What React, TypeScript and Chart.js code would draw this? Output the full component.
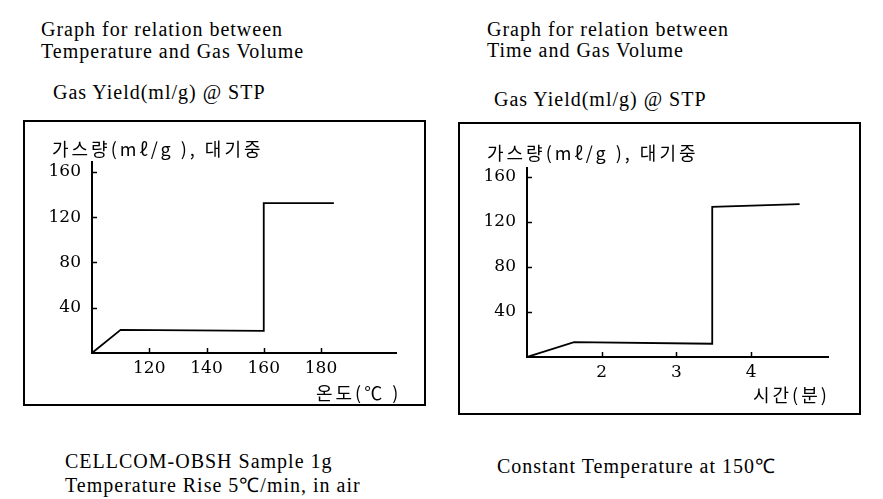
import React, { useEffect, useRef } from "react";
import { Chart, registerables } from "chart.js";

Chart.register(...registerables);

// ---- data ----
const tempX = [100, 110, 160, 160, 184.5];
const tempY = [0, 20.4, 19.5, 132.4, 132.4];
const tempXTicks = [120, 140, 160, 180];

const timeX = [1, 1.63, 3.48, 3.48, 4.65];
const timeY = [0, 13.3, 11.8, 133.5, 135.8];
const timeXTicks = [2, 3, 4];

const yTicks = [40, 80, 120, 160];

const yTitle = "가스량(mℓ/g ), 대기중";
const tempXTitle = "온도(℃ )";
const timeXTitle = "시간(분)";

const inwardTicks = {
  id: "inwardTicks",
  afterDatasetsDraw(chart: any) {
    const { ctx, chartArea, scales } = chart;
    ctx.save();
    ctx.strokeStyle = "#000";
    ctx.lineWidth = 1.5;
    scales.x.ticks.forEach((t: any) => {
      const px = Math.round(scales.x.getPixelForValue(t.value)) + 0.5;
      ctx.beginPath();
      ctx.moveTo(px, chartArea.bottom);
      ctx.lineTo(px, chartArea.bottom - 5);
      ctx.stroke();
    });
    scales.y.ticks.forEach((t: any) => {
      const py = Math.round(scales.y.getPixelForValue(t.value)) + 0.5;
      ctx.beginPath();
      ctx.moveTo(chartArea.left, py);
      ctx.lineTo(chartArea.left + 5, py);
      ctx.stroke();
    });
    ctx.restore();
  },
};

type Props = {
  xs: number[];
  ys: number[];
  xTicks: number[];
  xMin: number;
  xMax: number;
  yMax: number;
  left: number;
  top: number;
  width: number;
  height: number;
  yAxisWidth: number;
  padRight: number;
  padTop: number;
  xAxisHeight: number;
};

function StepChart(p: Props) {
  const ref = useRef<HTMLCanvasElement>(null);
  useEffect(() => {
    if (!ref.current) return;
    const data = p.xs.map((x, i) => ({ x, y: p.ys[i] }));
    const chart = new Chart(ref.current, {
      type: "line",
      data: {
        datasets: [
          {
            data,
            borderColor: "#000",
            borderWidth: 1.8,
            pointRadius: 0,
            tension: 0,
            fill: false,
          },
        ],
      },
      options: {
        animation: false,
        responsive: false,
        layout: { padding: { left: 0, right: p.padRight, top: p.padTop, bottom: 0 } },
        plugins: { legend: { display: false }, tooltip: { enabled: false }, title: { display: false } },
        scales: {
          x: {
            type: "linear",
            min: p.xMin,
            max: p.xMax,
            grid: { display: false, drawTicks: false },
            border: { display: true, color: "#000", width: 2 },
            afterBuildTicks: (s: any) => {
              s.ticks = p.xTicks.map((v) => ({ value: v }));
            },
            afterFit: (s: any) => {
              s.height = p.xAxisHeight;
            },
            ticks: {
              color: "#000",
              padding: 5,
              maxRotation: 0,
              font: { family: "'DejaVu Serif'", size: 17 },
            },
          },
          y: {
            type: "linear",
            min: 0,
            max: p.yMax,
            grid: { display: false, drawTicks: false },
            border: { display: true, color: "#000", width: 2 },
            afterBuildTicks: (s: any) => {
              s.ticks = yTicks.map((v) => ({ value: v }));
            },
            afterFit: (s: any) => {
              s.width = p.yAxisWidth;
            },
            ticks: {
              color: "#000",
              padding: 11,
              font: { family: "'DejaVu Serif'", size: 17 },
            },
          },
        },
      },
      plugins: [inwardTicks],
    });
    return () => chart.destroy();
  }, []);
  return (
    <canvas
      ref={ref}
      width={p.width}
      height={p.height}
      style={{ position: "absolute", left: p.left, top: p.top, width: p.width, height: p.height }}
    />
  );
}

const serif: React.CSSProperties = {
  position: "absolute",
  fontFamily: "'Liberation Serif', 'Times New Roman', serif",
  fontSize: 20,
  lineHeight: "20px",
  letterSpacing: "1px",
  color: "#000",
  whiteSpace: "nowrap",
};

const kor: React.CSSProperties = {
  position: "absolute",
  fontFamily: "'Noto Sans CJK KR', sans-serif",
  fontSize: 18,
  lineHeight: "18px",
  letterSpacing: "3px",
  color: "#000",
  whiteSpace: "nowrap",
};

const box: React.CSSProperties = {
  position: "absolute",
  border: "2px solid #000",
  boxSizing: "border-box",
};

export default function App() {
  return (
    <div
      style={{
        position: "fixed",
        left: 0,
        top: 0,
        width: 883,
        height: 499,
        background: "#fff",
        overflow: "hidden",
      }}
    >
      <div style={{ ...serif, left: 41, top: 19 }}>Graph for relation between</div>
      <div style={{ ...serif, left: 41, top: 40.5 }}>Temperature and Gas Volume</div>
      <div style={{ ...serif, left: 53, top: 81.5 }}>Gas Yield(ml/g) @ STP</div>

      <div style={{ ...serif, left: 487, top: 19 }}>Graph for relation between</div>
      <div style={{ ...serif, left: 487, top: 40 }}>Time and Gas Volume</div>
      <div style={{ ...serif, left: 494, top: 89 }}>Gas Yield(ml/g) @ STP</div>

      <div style={{ ...box, left: 23, top: 120, width: 403, height: 286 }} />
      <div style={{ ...box, left: 458, top: 122, width: 403, height: 293 }} />

      <StepChart
        xs={tempX}
        ys={tempY}
        xTicks={tempXTicks}
        xMin={100}
        xMax={206.2}
        yMax={168.8}
        left={25}
        top={122}
        width={399}
        height={282}
        yAxisWidth={67}
        padRight={28}
        padTop={40}
        xAxisHeight={51}
      />
      <StepChart
        xs={timeX}
        ys={timeY}
        xTicks={timeXTicks}
        xMin={1}
        xMax={5.03}
        yMax={168}
        left={460}
        top={124}
        width={399}
        height={289}
        yAxisWidth={67}
        padRight={31}
        padTop={44}
        xAxisHeight={56}
      />

      <div style={{ ...kor, left: 52, top: 138.5 }}>{yTitle}</div>
      <div style={{ ...kor, left: 316, top: 383 }}>{tempXTitle}</div>
      <div style={{ ...kor, left: 487, top: 142.5 }}>{yTitle}</div>
      <div style={{ ...kor, left: 753, top: 385 }}>{timeXTitle}</div>

      <div style={{ ...serif, left: 65, top: 451 }}>CELLCOM-OBSH Sample 1g</div>
      <div style={{ ...serif, left: 65, top: 475 }}>Temperature Rise 5℃/min, in air</div>
      <div style={{ ...serif, left: 497, top: 456 }}>Constant Temperature at 150℃</div>
    </div>
  );
}
